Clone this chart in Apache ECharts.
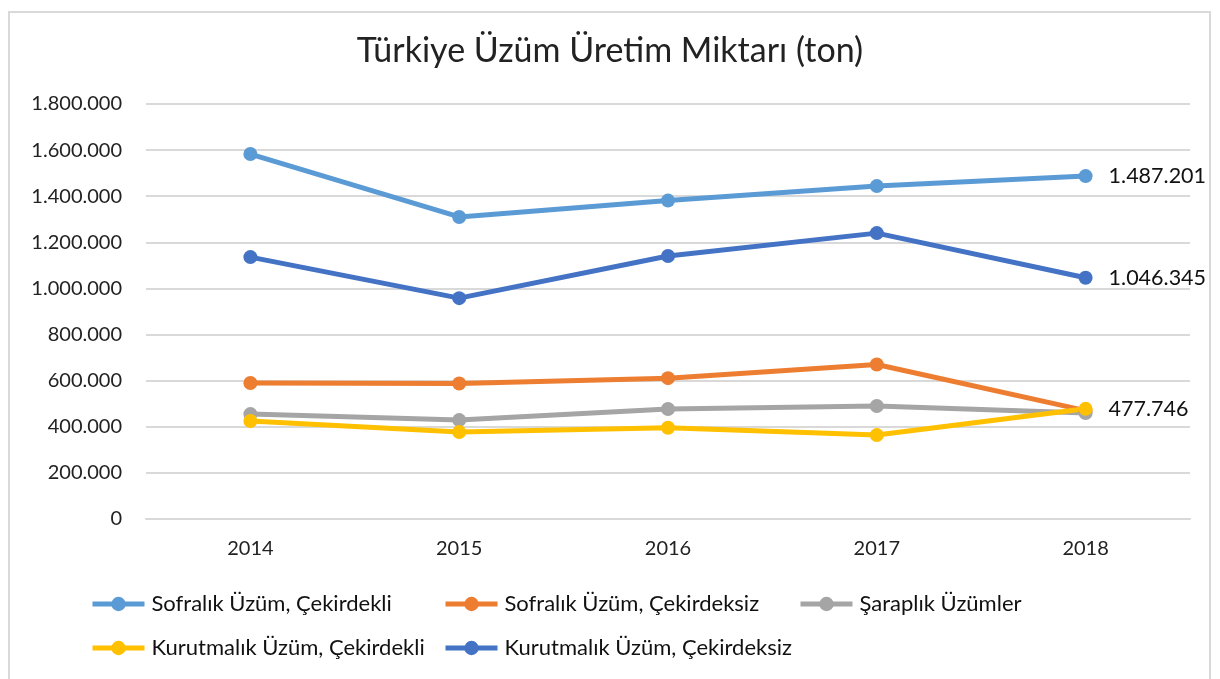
<!DOCTYPE html>
<html>
<head>
<meta charset="utf-8">
<script src="https://cdn.jsdelivr.net/npm/echarts@6/dist/echarts.min.js"></script>
<style>
  html, body { margin: 0; padding: 0; background: #fff; }
  #chart { width: 1220px; height: 679px; }
</style>
</head>
<body>
<div id="chart"></div>
<script>
const years = ['2014', '2015', '2016', '2017', '2018'];
const seriesNames = [
  'Sofralık Üzüm, Çekirdekli',
  'Sofralık Üzüm, Çekirdeksiz',
  'Şaraplık Üzümler',
  'Kurutmalık Üzüm, Çekirdekli',
  'Kurutmalık Üzüm, Çekirdeksiz'
];
const sofralikCekirdekli = [1583000, 1310000, 1381000, 1444000, 1487201];
const sofralikCekirdeksiz = [590000, 588000, 611000, 670000, 470000];
const saraplik = [455000, 429000, 477000, 490000, 460000];
const kurutmalikCekirdekli = [425000, 377000, 396000, 364000, 477746];
const kurutmalikCekirdeksiz = [1136000, 958000, 1141000, 1240000, 1046345];
const colors = ['#5B9BD5', '#ED7D31', '#A5A5A5', '#FFC000', '#4472C4'];
// only the last point of these series carries a label
const labelled = [true, false, false, true, true];

const FONT = 'Lato, "Liberation Sans", sans-serif';

function fmt(v) {
  return String(v).replace(/\B(?=(\d{3})+(?!\d))/g, '.');
}

const allData = [sofralikCekirdekli, sofralikCekirdeksiz, saraplik, kurutmalikCekirdekli, kurutmalikCekirdeksiz];

const chart = echarts.init(document.getElementById('chart'));

const legendPos = [
  { left: 90, top: 593 },
  { left: 443, top: 593 },
  { left: 798, top: 593 },
  { left: 90, top: 637 },
  { left: 443, top: 637 }
];

chart.setOption({
  animation: false,
  title: {
    text: 'Türkiye Üzüm Üretim Miktarı (ton)',
    left: 'center',
    top: 29,
    textStyle: { fontFamily: FONT, fontSize: 34, fontWeight: 'normal', color: '#222' }
  },
  graphic: [{
    type: 'rect',
    shape: { x: 9, y: 12, width: 1201, height: 700 },
    style: { fill: 'none', stroke: '#d9d9d9', lineWidth: 2 },
    silent: true
  }],
  legend: seriesNames.map((n, i) => ({
    data: [n],
    left: legendPos[i].left,
    top: legendPos[i].top,
    padding: 0,
    itemWidth: 52,
    itemHeight: 18,
    itemGap: 4,
    lineStyle: { width: 5 },
    textStyle: { fontFamily: FONT, fontSize: 22, color: '#111', padding: [0, 0, 0, 2] }
  })),
  grid: { left: 146, right: 30, top: 104, bottom: 160 },
  xAxis: {
    type: 'category',
    data: years,
    boundaryGap: true,
    axisLine: { lineStyle: { color: '#d9d9d9', width: 2 } },
    axisTick: { show: false },
    axisLabel: { fontFamily: FONT, fontSize: 20, color: '#222', margin: 20 }
  },
  yAxis: {
    type: 'value',
    min: 0,
    max: 1800000,
    interval: 200000,
    axisLine: { show: false },
    axisTick: { show: false },
    splitLine: { lineStyle: { color: '#d9d9d9', width: 2 } },
    axisLabel: { fontFamily: FONT, fontSize: 20, color: '#222', margin: 24, formatter: fmt }
  },
  series: seriesNames.map((n, i) => ({
    name: n,
    type: 'line',
    data: allData[i],
    color: colors[i],
    symbol: 'circle',
    symbolSize: 14,
    lineStyle: { width: 5 },
    label: {
      show: labelled[i],
      position: 'right',
      distance: 16,
      fontFamily: FONT,
      fontSize: 21.5,
      color: '#111',
      formatter: p => (p.dataIndex === years.length - 1 ? fmt(p.value) : '')
    }
  }))
});
</script>
</body>
</html>
